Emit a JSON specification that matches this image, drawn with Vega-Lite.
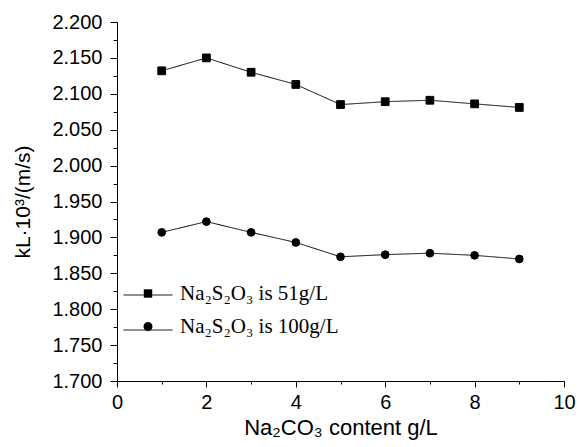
{
  "$schema": "https://vega.github.io/schema/vega-lite/v6.json",
  "width": 447,
  "height": 359,
  "autosize": {"type": "none"},
  "padding": {"left": 117, "top": 22, "right": 15, "bottom": 66},
  "background": "white",
  "config": {
    "view": {"stroke": null},
    "axis": {
      "labelFont": "Liberation Sans",
      "titleFont": "Liberation Sans",
      "labelFontSize": 20,
      "titleFontSize": 20,
      "labelColor": "black",
      "titleColor": "black",
      "domainColor": "black",
      "tickColor": "black",
      "grid": false,
      "titleFontWeight": "normal"
    }
  },
  "data": {
    "values": [
      {"x": 1, "y": 2.132, "series": "51"},
      {"x": 2, "y": 2.150, "series": "51"},
      {"x": 3, "y": 2.130, "series": "51"},
      {"x": 4, "y": 2.113, "series": "51"},
      {"x": 5, "y": 2.085, "series": "51"},
      {"x": 6, "y": 2.089, "series": "51"},
      {"x": 7, "y": 2.091, "series": "51"},
      {"x": 8, "y": 2.086, "series": "51"},
      {"x": 9, "y": 2.081, "series": "51"},
      {"x": 1, "y": 1.907, "series": "100"},
      {"x": 2, "y": 1.922, "series": "100"},
      {"x": 3, "y": 1.907, "series": "100"},
      {"x": 4, "y": 1.893, "series": "100"},
      {"x": 5, "y": 1.873, "series": "100"},
      {"x": 6, "y": 1.876, "series": "100"},
      {"x": 7, "y": 1.878, "series": "100"},
      {"x": 8, "y": 1.875, "series": "100"},
      {"x": 9, "y": 1.870, "series": "100"}
    ]
  },
  "encoding": {
    "x": {
      "field": "x",
      "type": "quantitative",
      "scale": {"domain": [0, 10], "nice": false},
      "axis": {
        "values": [0, 1, 2, 3, 4, 5, 6, 7, 8, 9, 10],
        "labelExpr": "datum.value % 2 === 0 ? datum.label : ''",
        "tickSize": {"condition": {"test": "datum.value % 2 === 0", "value": 6}, "value": 3},
        "labelPadding": 5,
        "labelFlush": false,
        "title": "Na₂CO₃ content  g/L",
        "titleFontSize": 22,
        "titlePadding": 5
      }
    },
    "y": {
      "field": "y",
      "type": "quantitative",
      "scale": {"domain": [1.7, 2.2], "nice": false, "zero": false},
      "axis": {
        "values": [1.7, 1.725, 1.75, 1.775, 1.8, 1.825, 1.85, 1.875, 1.9, 1.925, 1.95, 1.975, 2.0, 2.025, 2.05, 2.075, 2.1, 2.125, 2.15, 2.175, 2.2],
        "labelExpr": "round(datum.value * 1000) % 50 === 0 ? format(datum.value, '.3f') : ''",
        "tickSize": {"condition": {"test": "round(datum.value * 1000) % 50 === 0", "value": 7}, "value": 4},
        "labelPadding": 8,
        "labelFlush": false,
        "title": "kL·10³/(m/s)",
        "titleFontSize": 21,
        "titlePadding": 18
      }
    }
  },
  "layer": [
    {
      "mark": {"type": "line", "color": "black", "strokeWidth": 1},
      "encoding": {
        "strokeDash": {
          "field": "series",
          "type": "nominal",
          "scale": {"domain": ["51", "100"], "range": [[1, 0], [1, 0]]},
          "legend": {
            "title": null,
            "orient": "none",
            "legendX": 6,
            "legendY": 248,
            "padding": 0,
            "symbolType": "stroke",
            "symbolSize": 2401,
            "symbolStrokeColor": "black",
            "symbolStrokeWidth": 1,
            "labelFontSize": 21,
            "labelExpr": "''",
            "rowPadding": -15
          }
        }
      }
    },
    {
      "mark": {"type": "point", "filled": true, "fill": "black", "stroke": "black", "strokeWidth": 1, "size": 400, "opacity": 0},
      "encoding": {
        "shape": {
          "field": "series",
          "type": "nominal",
          "scale": {"domain": ["51", "100"], "range": ["M-0.42,-0.42L0.42,-0.42L0.42,0.42L-0.42,0.42Z", "M0.45,0A0.45,0.45,0,1,1,-0.45,0A0.45,0.45,0,1,1,0.45,0Z"]},
          "legend": {
            "title": null,
            "orient": "none",
            "legendX": 20.5,
            "legendY": 261,
            "padding": 0,
            "symbolSize": 400,
            "symbolOpacity": 1,
            "symbolFillColor": "black",
            "symbolStrokeColor": "black",
            "symbolStrokeWidth": 1,
            "labelFont": "Liberation Serif",
            "labelFontSize": 21,
            "labelColor": "black",
            "labelOffset": 21.5,
            "rowPadding": 11,
            "labelExpr": "'Na₂S₂O₃ is ' + datum.label + 'g/L'"
          }
        }
      }
    },
    {
      "mark": {"type": "point", "filled": true, "fill": "black", "stroke": "black", "strokeWidth": 1, "size": 60, "opacity": 1},
      "encoding": {
        "shape": {
          "field": "series",
          "type": "nominal",
          "scale": {"domain": ["51", "100"], "range": ["square", "circle"]},
          "legend": null
        }
      }
    }
  ],
  "resolve": {"scale": {"shape": "independent"}}
}
